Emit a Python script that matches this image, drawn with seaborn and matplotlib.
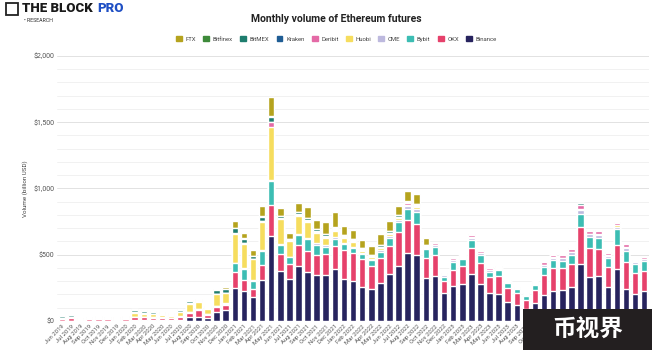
import numpy as np
import pandas as pd
import matplotlib.pyplot as plt
import matplotlib.patches as mpatches
import seaborn as sns

# estilo
sns.set_style("white")
plt.rcParams['font.family'] = ['Roboto', 'Noto Sans CJK SC', 'DejaVu Sans']

months = pd.date_range('2019-06-01', periods=65, freq='MS').strftime('%b %Y').tolist()

binance = [0, 0, 0, 1, 2, 2, 2, 3, 8, 8, 7, 7, 6, 10, 27, 32, 22, 68, 82, 250,
           226, 181, 307, 644, 377, 314, 415, 370, 345, 350, 390, 314, 304, 259, 239, 289, 352, 415, 516, 498, 322,
           342, 209, 264, 277, 352, 277, 209, 206, 146, 121, 88, 133, 196, 226, 234, 259, 430, 330, 340, 257, 393, 239, 206, 226]
okx = [18, 22, 8, 10, 10, 9, 8, 10, 22, 20, 18, 17, 15, 20, 35, 50, 23, 35, 38, 122,
       83, 61, 113, 232, 129, 114, 159, 156, 153, 158, 176, 222, 212, 206, 176, 184, 212, 259, 246, 234, 156,
       154, 95, 123, 138, 196, 163, 126, 134, 103, 93, 70, 101, 151, 177, 164, 171, 282, 218, 201, 148, 181, 204, 159, 154]
bybit = [0, 0, 0, 0, 0, 0, 0, 0, 2, 2, 2, 2, 2, 3, 5, 5, 4, 8, 8, 62,
         85, 60, 108, 181, 68, 52, 75, 90, 76, 53, 53, 43, 32, 38, 45, 50, 65, 71, 83, 93, 63,
         63, 31, 58, 50, 63, 58, 37, 45, 35, 27, 30, 38, 58, 57, 57, 71, 96, 84, 88, 68, 118, 88, 65, 73]
cme = [0, 0, 0, 0, 0, 0, 0, 0, 1, 1, 1, 1, 1, 2, 3, 3, 2, 5, 5, 6,
       5, 5, 5, 5, 5, 5, 8, 10, 12, 12, 12, 12, 10, 10, 8, 12, 15, 18, 20, 20, 12,
       12, 10, 12, 12, 18, 14, 12, 10, 9, 7, 8, 10, 15, 15, 18, 18, 30, 22, 22, 18, 20, 20, 12, 12]
huobi = [5, 5, 6, 10, 11, 10, 8, 10, 27, 25, 22, 20, 17, 30, 60, 50, 38, 87, 75, 215,
         185, 158, 217, 405, 188, 119, 136, 124, 81, 56, 48, 38, 41, 18, 12, 15, 12, 12, 12, 12, 8,
         6, 4, 5, 4, 6, 4, 4, 4, 3, 2, 2, 3, 4, 4, 4, 4, 6, 4, 4, 4, 12, 5, 3, 3]
deribit = [2, 3, 1, 2, 2, 2, 2, 3, 5, 4, 4, 4, 3, 4, 5, 5, 4, 3, 3, 5,
           5, 4, 4, 32, 5, 4, 8, 8, 8, 8, 8, 8, 8, 7, 6, 8, 8, 10, 12, 12, 6,
           8, 6, 10, 9, 14, 11, 10, 9, 8, 6, 7, 12, 18, 18, 22, 18, 32, 20, 23, 20, 18, 22, 10, 12]
kraken = [1, 1, 1, 1, 1, 1, 1, 1, 3, 2, 2, 2, 1, 2, 2, 2, 1, 1, 1, 2,
          3, 2, 3, 5, 3, 2, 4, 4, 4, 4, 4, 3, 3, 3, 3, 3, 3, 3, 3, 3, 2,
          2, 2, 2, 2, 3, 2, 2, 2, 2, 1, 1, 2, 2, 2, 2, 2, 3, 2, 2, 2, 2, 2, 1, 2]
bitmex = [12, 15, 3, 4, 5, 4, 3, 5, 18, 14, 10, 9, 7, 10, 13, 12, 9, 25, 28, 38,
          30, 20, 30, 35, 15, 8, 15, 15, 15, 12, 12, 10, 10, 10, 8, 10, 10, 10, 8, 8, 6,
          4, 3, 4, 4, 5, 4, 5, 3, 3, 2, 3, 3, 4, 4, 5, 5, 9, 7, 7, 6, 6, 6, 4, 4]
bitfinex = [2, 2, 1, 1, 1, 1, 1, 1, 2, 2, 2, 2, 2, 2, 2, 2, 1, 2, 2, 2,
            5, 3, 3, 5, 2, 2, 3, 3, 3, 3, 3, 2, 2, 2, 2, 2, 2, 2, 2, 2, 2,
            0, 0, 0, 0, 0, 0, 0, 0, 0, 0, 0, 0, 0, 0, 0, 0, 0, 0, 0, 0, 0, 0, 0, 0]
ftx = [0, 0, 2, 3, 3, 3, 3, 4, 4, 4, 4, 4, 4, 5, 8, 7, 6, 9, 11, 50,
       40, 39, 78, 144, 63, 47, 70, 80, 63, 91, 114, 65, 65, 58, 70, 81, 78, 70, 79, 74, 50,
       0, 0, 0, 0, 0, 0, 0, 0, 0, 0, 0, 0, 0, 0, 0, 0, 0, 0, 0, 0, 0, 0, 0, 0]

# ordem de empilhamento: de baixo para cima
series = {'Binance': binance, 'OKX': okx, 'Bybit': bybit, 'CME': cme, 'Huobi': huobi,
          'Deribit': deribit, 'Kraken': kraken, 'BitMEX': bitmex, 'Bitfinex': bitfinex, 'FTX': ftx}
colors = {'Binance': '#27235e', 'OKX': '#e6416b', 'Bybit': '#3cbdb3', 'CME': '#bdb9de',
          'Huobi': '#f6dd5e', 'Deribit': '#e46aa6', 'Kraken': '#1f5d94', 'BitMEX': '#1e7d6e',
          'Bitfinex': '#3e8a3a', 'FTX': '#b5a31e'}

df = pd.DataFrame(series, index=months)
cum = df.cumsum(axis=1)

fig = plt.figure(figsize=(6.52, 3.5), dpi=100)
ax = fig.add_axes([0.088, 0.083, 0.907, 0.757])

# barras empilhadas: desenha do topo acumulado até a base
for name in reversed(list(series.keys())):
    sns.barplot(x=cum.index, y=cum[name].values, color=colors[name], saturation=1,
                width=0.72, ax=ax, zorder=3)

ax.set_ylim(0, 2000)
ax.set_xlim(-0.5, len(months) - 0.5)
ax.set_yticks(range(0, 2001, 500))
ax.set_yticks(range(0, 2001, 100), minor=True)
ax.set_yticklabels(['$0', '$500', '$1,000', '$1,500', '$2,000'], fontsize=5, color='#555555')
ax.grid(which='major', axis='y', color='#e2e2e2', lw=0.7, zorder=0)
ax.grid(which='minor', axis='y', color='#efefef', lw=0.6, zorder=0)
ax.set_axisbelow(True)
ax.tick_params(axis='both', which='both', length=0, pad=2)
ax.set_xticks(range(len(months)))
ax.set_xticklabels(months, rotation=45, ha='right', rotation_mode='anchor', fontsize=4.3, color='#555555')
ax.set_xlabel('')
ax.set_ylabel('Volume (billion USD)', fontsize=4.5, color='#444444', labelpad=4)
for s in ax.spines.values():
    s.set_visible(False)

# título e legenda
fig.text(0.516, 0.947, 'Monthly volume of Ethereum futures', ha='center', va='center',
         fontsize=7.5, fontweight='bold', color='#222222')
legend_names = ['FTX', 'Bitfinex', 'BitMEX', 'Kraken', 'Deribit', 'Huobi', 'CME', 'Bybit', 'OKX', 'Binance']
handles = [mpatches.Patch(color=colors[n], label=n) for n in legend_names]
fig.legend(handles=handles, loc='center', bbox_to_anchor=(0.516, 0.889), ncol=10, frameon=False,
           fontsize=4.3, handlelength=1.0, handleheight=1.0, handletextpad=0.6, columnspacing=1.2,
           labelcolor='#444444')

# logotipo
fig.patches.append(mpatches.Rectangle((6 / 652, 1 - 15 / 350), 12 / 652, 12 / 350, transform=fig.transFigure,
                                      fill=False, edgecolor='#222222', lw=1.3))
t1 = fig.text(22 / 652, 1 - 9 / 350, 'THE BLOCK', fontsize=9.5, fontweight='heavy', color='#1a1a1a', va='center')
fig.canvas.draw()
bb = t1.get_window_extent()
fig.text((bb.x1 + 4) / 652, 1 - 9 / 350, 'PRO', fontsize=9.5, fontweight='heavy', color='#1f4fc4', va='center')
fig.text(24 / 652, 1 - 20 / 350, '• RESEARCH', fontsize=3.8, color='#333333', va='center')

# marca d'água
fig.patches.append(mpatches.Rectangle((523 / 652, 0), 129 / 652, 41 / 350, transform=fig.transFigure,
                                      facecolor='#231f20', edgecolor='none', zorder=10))
fig.text(588 / 652, 20 / 350, '币视界', fontsize=17, fontweight='bold', color='white',
         ha='center', va='center', zorder=11)

plt.savefig('out.png', dpi=100)
plt.close()
